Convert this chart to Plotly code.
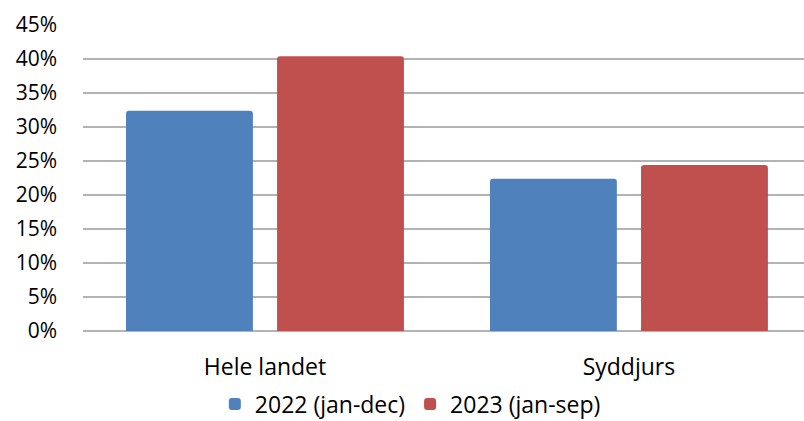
import plotly.graph_objects as go

# Chart data
categories = ['Hele landet', 'Syddjurs']
series_names = ['2022 (jan-dec)', '2023 (jan-sep)']
values_2022 = [0.324, 0.224]
values_2023 = [0.404, 0.244]
colors = ['#4F81BD', '#C0504D']

fig = go.Figure()

for name, vals, color in zip(series_names, [values_2022, values_2023], colors):
    fig.add_trace(go.Bar(
        x=categories,
        y=vals,
        name=name,
        marker=dict(color=color, line=dict(width=0)),
    ))

fig.update_layout(
    width=804,
    height=421,
    margin=dict(l=83, r=0, t=25, b=90),
    paper_bgcolor='white',
    plot_bgcolor='white',
    font=dict(family='Open Sans, Lato, sans-serif', size=23, color='#000000'),
    barmode='group',
    bargap=0.17,
    bargroupgap=0.16,
    barcornerradius=3,
    showlegend=True,
    legend=dict(
        orientation='h',
        x=0.454,
        xanchor='center',
        xref='paper',
        y=0.04,
        yref='container',
        yanchor='middle',
        font=dict(size=23),
        itemwidth=30,
        traceorder='normal',
    ),
    xaxis=dict(
        range=[-0.5, 1.481],
        showgrid=False,
        showline=False,
        ticks='',
        ticklabelstandoff=20,
    ),
    yaxis=dict(
        range=[0, 0.45],
        dtick=0.05,
        tickformat='.0%',
        tickfont=dict(size=21),
        showgrid=True,
        gridcolor='#B3B3B3',
        gridwidth=1.5,
        zeroline=True,
        zerolinecolor='#B3B3B3',
        zerolinewidth=1.5,
        showline=False,
        ticks='',
        ticklabelstandoff=25,
    ),
)

# drop the default page margin so the figure fills the window
fig.write_html('out.html', config={'displayModeBar': False},
               post_script="document.body.style.margin='0';")
